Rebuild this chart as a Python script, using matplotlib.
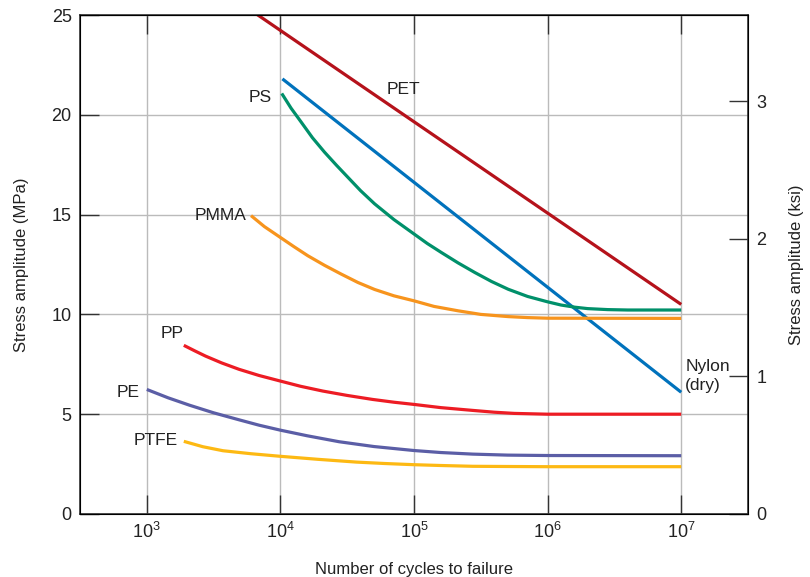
import matplotlib
matplotlib.use("Agg")
from matplotlib import pyplot as plt

plt.rcParams['font.family'] = ['Liberation Sans', 'DejaVu Sans']

# Curves: log10(cycles to failure) vs stress amplitude (MPa)
pet_logn = [3.7, 7.0]
pet_s = [25.6, 10.5]

nylon_logn = [4.015, 7.0]
nylon_s = [21.8, 6.1]

ps_logn = [4.01, 4.08, 4.155, 4.24, 4.33, 4.42, 4.505, 4.6, 4.705, 4.85, 5.0, 5.1,
           5.205, 5.33, 5.455, 5.58, 5.705, 5.85, 6.0, 6.1, 6.205, 6.3, 6.45, 6.6, 7.0]
ps_s = [21.07, 20.33, 19.64, 18.85, 18.13, 17.47, 16.87, 16.2, 15.54, 14.75, 14.03, 13.55,
        13.1, 12.58, 12.1, 11.65, 11.26, 10.9, 10.63, 10.47, 10.36, 10.29, 10.24, 10.22, 10.22]

pmma_logn = [3.78, 3.88, 3.99, 4.1, 4.205, 4.33, 4.455, 4.58, 4.705, 4.85, 5.0, 5.15,
             5.33, 5.5, 5.705, 5.85, 6.0, 7.0]
pmma_s = [14.95, 14.4, 13.9, 13.4, 12.94, 12.46, 12.02, 11.6, 11.25, 10.93, 10.68, 10.4,
          10.18, 10.0, 9.89, 9.84, 9.81, 9.8]

pp_logn = [3.277, 3.36, 3.44, 3.56, 3.69, 3.84, 4.0, 4.15, 4.317, 4.5, 4.69, 4.85, 5.0,
           5.2, 5.44, 5.6, 5.75, 6.0, 7.0]
pp_s = [8.45, 8.17, 7.91, 7.57, 7.25, 6.94, 6.66, 6.4, 6.16, 5.94, 5.74, 5.6, 5.49,
        5.33, 5.19, 5.1, 5.04, 5.0, 5.0]

pe_logn = [3.0, 3.16, 3.32, 3.5, 3.69, 3.84, 4.0, 4.2, 4.44, 4.7, 5.0, 5.2, 5.44, 5.7, 6.0, 7.0]
pe_s = [6.24, 5.82, 5.45, 5.07, 4.72, 4.45, 4.2, 3.92, 3.62, 3.38, 3.18, 3.08, 3.0, 2.95, 2.93, 2.92]

ptfe_logn = [3.277, 3.42, 3.57, 3.78, 4.0, 4.28, 4.57, 4.78, 5.0, 5.2, 5.44, 5.7, 6.0, 7.0]
ptfe_s = [3.64, 3.37, 3.17, 3.02, 2.89, 2.74, 2.6, 2.53, 2.47, 2.43, 2.39, 2.38, 2.37, 2.37]

# label name, log10 x, y, alignment
labels = [('PET', 4.92, 21.26, 'center'),
          ('PS', 3.85, 20.86, 'center'),
          ('PMMA', 3.55, 14.94, 'center'),
          ('PP', 3.19, 9.03, 'center'),
          ('PE', 2.86, 6.07, 'center'),
          ('PTFE', 3.07, 3.66, 'center'),
          ('Nylon\n(dry)', 7.03, 6.92, 'left')]

series = [(pet_logn, pet_s, '#b5121b'),
          (nylon_logn, nylon_s, '#0072bc'),
          (ps_logn, ps_s, '#00906a'),
          (pmma_logn, pmma_s, '#f7941d'),
          (pp_logn, pp_s, '#ed1c24'),
          (pe_logn, pe_s, '#5b5ea6'),
          (ptfe_logn, ptfe_s, '#fdb913')]

fig = plt.figure(figsize=(8.1, 5.77), dpi=100)
ax = fig.add_axes([80/810, 63/577, 668/810, 499/577])

for logn, s, c in series:
    ax.plot([10**v for v in logn], s, color=c, lw=2.3, solid_capstyle='butt',
            solid_joinstyle='round')

for txt, lx, y, ha in labels:
    ax.text(10**lx, y, txt, ha=ha, va='center', fontsize=12.5, color='#222222',
            linespacing=1.3)

ax.set_xscale('log')
ax.set_xlim(10**2.5, 10**7.5)
ax.set_ylim(0, 25)
ax.set_xticks([1e3, 1e4, 1e5, 1e6, 1e7])
ax.minorticks_off()
ax.set_yticks([0, 5, 10, 15, 20, 25])
ax.grid(True, color='#bbbbbb', lw=1)
ax.tick_params(direction='in', length=14, width=1, color='#333333',
               labelsize=13, top=True, labelcolor='#222222', pad=6)
for s in ax.spines.values():
    s.set_color('#333333')
    s.set_linewidth(1.2)

ax.set_xlabel('Number of cycles to failure', fontsize=12, labelpad=14, color='#222222')
ax.set_ylabel('Stress amplitude (MPa)', fontsize=12, labelpad=16, color='#222222')

ax2 = ax.twinx()
ax2.set_ylim(0, 25 / 6.895)
ax2.set_yticks([0, 1, 2, 3])
ax2.tick_params(direction='in', length=14, width=1, color='#333333',
                labelsize=13, labelcolor='#222222', pad=6)
ax2.set_ylabel('Stress amplitude (ksi)', fontsize=12, labelpad=16, color='#222222')

plt.savefig('out.png', dpi=100)
